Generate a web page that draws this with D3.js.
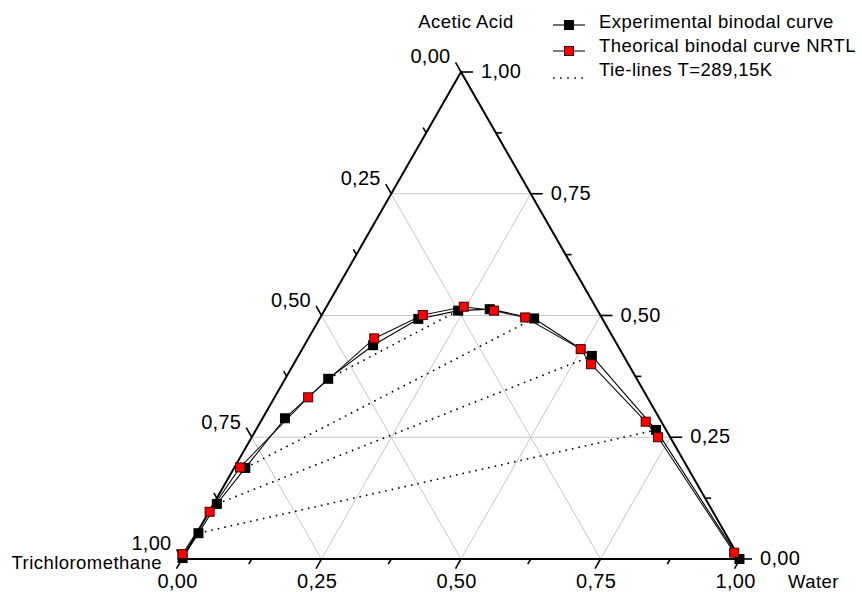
<!DOCTYPE html>
<html>
<head>
<meta charset="utf-8">
<script src="https://cdn.jsdelivr.net/npm/d3@7"></script>
<style>
  body { margin: 0; background: #fff; }
  svg text { font-family: Arial, "Liberation Sans", sans-serif; fill: #000; }
</style>
</head>
<body>
<svg id="chart" width="862" height="592"></svg>
<script>
// Ternary system trichloromethane / acetic acid / water (mass fractions).
// Each composition is stored as water and acetic acid fractions;
// trichloromethane is the remainder.
const vertexNames = ["Trichloromethane", "Acetic Acid", "Water"];
const seriesNames = ["Experimental binodal curve", "Theorical binodal curve NRTL", "Tie-lines T=289,15K"];

const tickValues = [0, 0.25, 0.5, 0.75, 1];
const tickLabels = ["0,00", "0,25", "0,50", "0,75", "1,00"];
const minorTickValues = [0.125, 0.375, 0.625, 0.875];
const gridValues = [0.25, 0.5, 0.75];

// Experimental binodal curve
const expWater = [0.000, 0.003, 0.006, 0.020, 0.040, 0.077, 0.123, 0.177, 0.240, 0.295, 0.384, 0.526, 0.717, 0.999];
const expAcid  = [0.002, 0.053, 0.113, 0.187, 0.289, 0.370, 0.439, 0.493, 0.510, 0.513, 0.494, 0.417, 0.265, 0.000];

// NRTL binodal curve
const nrtlWater = [-0.004, 0.001, 0.010, 0.060, 0.118, 0.181, 0.246, 0.304, 0.367, 0.499, 0.533, 0.690, 0.728, 0.983];
const nrtlAcid  = [0.010, 0.097, 0.188, 0.332, 0.453, 0.501, 0.518, 0.510, 0.496, 0.431, 0.400, 0.282, 0.250, 0.013];

// Tie-lines: organic-phase end and aqueous-phase end
const tieOrgWater = [0.077, 0.020, 0.006, 0.003];
const tieOrgAcid  = [0.370, 0.187, 0.113, 0.053];
const tieAqWater  = [0.240, 0.384, 0.526, 0.717];
const tieAqAcid   = [0.510, 0.494, 0.417, 0.265];

const svg = d3.select("#chart");

// Plot frame: bottom edge from (x0,yBase) to (x1,yBase), apex above the middle.
const x0 = 182, x1 = 740, yBase = 559, yApex = 72;
const xs = d3.scaleLinear().domain([0, 1]).range([x0, x1]);
const ys = d3.scaleLinear().domain([0, 1]).range([yBase, yApex]);
const pt = (w, a) => [xs(w + a / 2), ys(a)];

const W = x1 - x0, H = yBase - yApex;
const norm = Math.hypot(W / 2, H);
const dirLeft = [-(W / 2) / norm, -H / norm];   // outward along trichloromethane grid lines
const dirBottom = [-(W / 2) / norm, H / norm];  // outward along water grid lines
const dirRight = [1, 0];                         // outward along acetic acid grid lines

const line = d3.line();

// grid
const grid = svg.append("g").attr("stroke", "#c8c8c8").attr("stroke-width", 1).attr("fill", "none");
gridValues.forEach(v => {
  grid.append("path").attr("d", line([pt(0, v), pt(1 - v, v)]));          // acetic acid
  grid.append("path").attr("d", line([pt(v, 0), pt(v, 1 - v)]));          // water
  grid.append("path").attr("d", line([pt(0, 1 - v), pt(1 - v, 0)]));      // trichloromethane
});

// triangle
svg.append("path")
  .attr("d", line([pt(0, 0), pt(1, 0), pt(0, 1)]) + "Z")
  .attr("fill", "none").attr("stroke", "#000").attr("stroke-width", 2)
  .attr("stroke-linejoin", "miter");

// ticks
const ticks = svg.append("g").attr("stroke", "#000").attr("stroke-width", 1.6);
function tick(p, d, len) {
  const e = [p[0] + d[0] * len, p[1] + d[1] * len];
  ticks.append("path").attr("d", line([p, e]));
  return e;
}
const majorLen = 11, minorLen = 6;
const labels = svg.append("g").style("font-size", "20px").style("letter-spacing", "0.3px");

tickValues.forEach((v, i) => {
  // left axis: trichloromethane
  let e = tick(pt(0, 1 - v), dirLeft, majorLen);
  labels.append("text").attr("x", e[0] - 5).attr("y", e[1] + 1)
    .attr("text-anchor", "end").text(tickLabels[i]);
  // bottom axis: water
  e = tick(pt(v, 0), dirBottom, majorLen);
  labels.append("text").attr("x", e[0] + 1).attr("y", 588)
    .attr("text-anchor", "middle").text(tickLabels[i]);
  // right axis: acetic acid
  e = tick(pt(1 - v, v), dirRight, majorLen + 1);
  labels.append("text").attr("x", e[0] + 8).attr("y", e[1] + 6)
    .attr("text-anchor", "start").text(tickLabels[i]);
});
minorTickValues.forEach(v => {
  tick(pt(0, 1 - v), dirLeft, minorLen);
  tick(pt(v, 0), dirBottom, minorLen);
  tick(pt(1 - v, v), dirRight, minorLen);
});

// vertex titles
const titles = svg.append("g").style("font-size", "18.5px").style("letter-spacing", "0.45px");
titles.append("text").attr("x", 466).attr("y", 28).attr("text-anchor", "middle").text(vertexNames[1]);
titles.append("text").attr("x", 162).attr("y", 569).attr("text-anchor", "end").text(vertexNames[0]);
titles.append("text").attr("x", 788).attr("y", 588).attr("text-anchor", "start").text(vertexNames[2]);

// tie-lines
const tie = svg.append("g").attr("stroke", "#000").attr("stroke-width", 1.6)
  .attr("stroke-dasharray", "1.6 5").attr("fill", "none");
tieOrgWater.forEach((_, i) => {
  tie.append("path").attr("d", line([pt(tieOrgWater[i], tieOrgAcid[i]), pt(tieAqWater[i], tieAqAcid[i])]));
});

// curves
const expPts = expWater.map((w, i) => pt(w, expAcid[i]));
const nrtlPts = nrtlWater.map((w, i) => pt(w, nrtlAcid[i]));
svg.append("path").attr("d", line(expPts)).attr("fill", "none").attr("stroke", "#000").attr("stroke-width", 1.1);
svg.append("path").attr("d", line(nrtlPts)).attr("fill", "none").attr("stroke", "#111").attr("stroke-width", 1.1);

const ms = 10;
svg.append("g").selectAll("rect").data(expPts).join("rect")
  .attr("x", d => d[0] - ms / 2).attr("y", d => d[1] - ms / 2)
  .attr("width", ms).attr("height", ms).attr("fill", "#000");
svg.append("g").selectAll("rect").data(nrtlPts).join("rect")
  .attr("x", d => d[0] - ms / 2 + 0.5).attr("y", d => d[1] - ms / 2 + 0.5)
  .attr("width", ms - 1).attr("height", ms - 1).attr("fill", "#ff0000")
  .attr("stroke", "#3a0000").attr("stroke-width", 1);

// legend
const lg = svg.append("g");
const lx0 = 553, lx1 = 585, lxm = 569, ltx = 599;
const rows = [25, 51, 78], baselines = [27.5, 52, 75.5];
lg.append("path").attr("d", line([[lx0, rows[0]], [lx1, rows[0]]])).attr("stroke", "#000").attr("stroke-width", 1.1);
lg.append("rect").attr("x", lxm - 5).attr("y", rows[0] - 5).attr("width", 10).attr("height", 10).attr("fill", "#000");
lg.append("path").attr("d", line([[lx0, rows[1]], [lx1, rows[1]]])).attr("stroke", "#111").attr("stroke-width", 1.1);
lg.append("rect").attr("x", lxm - 4.5).attr("y", rows[1] - 4.5).attr("width", 9).attr("height", 9)
  .attr("fill", "#ff0000").attr("stroke", "#3a0000").attr("stroke-width", 1);
lg.append("path").attr("d", line([[lx0, rows[2]], [lx1, rows[2]]])).attr("stroke", "#000")
  .attr("stroke-width", 1.6).attr("stroke-dasharray", "1.6 5.5");
const lgText = lg.append("g").style("font-size", "18.5px").style("letter-spacing", "0.45px");
seriesNames.forEach((s, i) => {
  lgText.append("text").attr("x", ltx).attr("y", baselines[i]).text(s);
});
</script>
</body>
</html>
